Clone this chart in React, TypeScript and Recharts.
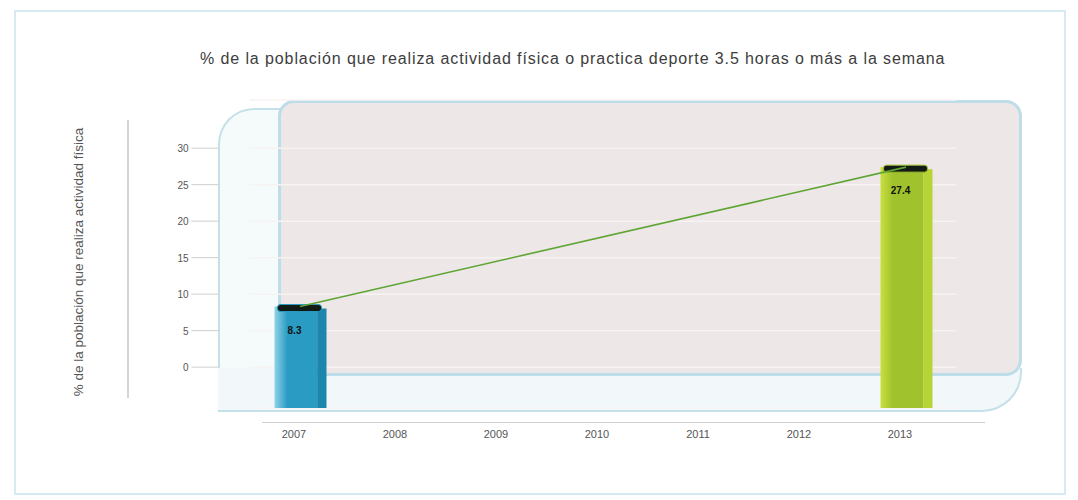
import { Bar, ComposedChart, CartesianGrid, LabelList, Line, XAxis, YAxis } from "recharts";

const years = ["2007", "2008", "2009", "2010", "2011", "2012", "2013"];
const pct: (number | null)[] = [8.3, null, null, null, null, null, 27.4];
const yTicks = [0, 5, 10, 15, 20, 25, 30];
const barLight = ["#8fd3e8", "", "", "", "", "", "#c9df3e"];
const barMain = ["#2a9cc4", "", "", "", "", "", "#9fc22d"];
const barDark = ["#1d86ad", "", "", "", "", "", "#b7d437"];

const TITLE =
  "% de la población que realiza actividad física o practica deporte 3.5 horas o más a la semana";
const Y_LABEL = "% de la población que realiza actividad física";

const data = years.map((year, i) => ({ year, pct: pct[i] }));

const FONT = "'Liberation Sans', Arial, sans-serif";

function BarShape(props: any) {
  const { x, y, width, height, background, payload } = props;
  if (height == null || isNaN(y)) return null;
  const i = years.indexOf(payload?.year);
  if (i < 0) return null;
  const bottom = background ? background.y + background.height : y + height;
  const front = width * 0.82;
  const id = `bar-grad-${i}`;
  return (
    <g>
      <defs>
        <linearGradient id={id} x1="0" y1="0" x2="1" y2="0">
          <stop offset="0%" stopColor={barLight[i]} />
          <stop offset="30%" stopColor={barMain[i]} />
          <stop offset="100%" stopColor={barMain[i]} />
        </linearGradient>
      </defs>
      <rect x={x} y={y} width={front} height={bottom - y} fill={`url(#${id})`} />
      <rect x={x + front} y={y + 2} width={width - front} height={bottom - y - 2} fill={barDark[i]} />
      <rect
        x={x + 3}
        y={y - 2}
        width={width - 8}
        height={7}
        rx={3}
        fill="#121a16"
        stroke={barMain[i]}
        strokeWidth={1}
      />
    </g>
  );
}

function YTick(props: any) {
  const { x, y, payload } = props;
  return (
    <g>
      <text x={x - 61} y={y} dy={4} textAnchor="end" fontSize={10} fill="#555" fontFamily={FONT}>
        {payload.value}
      </text>
      <line x1={x - 58} x2={x - 31} y1={y} y2={y} stroke="#cfcfcf" />
    </g>
  );
}

function YLabel(props: any) {
  const { viewBox } = props;
  if (!viewBox) return null;
  const cx = viewBox.x + 29;
  const cy = viewBox.y + viewBox.height / 2 + 8;
  return (
    <text
      x={cx}
      y={cy}
      transform={`rotate(-90, ${cx}, ${cy})`}
      textAnchor="middle"
      dominantBaseline="central"
      fontSize={13.5}
      fill="#555"
      fontFamily={FONT}
    >
      {Y_LABEL}
    </text>
  );
}

// page coordinates -> wrapper coordinates (body margin 8)
const box = (l: number, t: number, r: number, b: number) => ({
  position: "absolute" as const,
  left: l - 8,
  top: t - 8,
  width: r - l,
  height: b - t,
  boxSizing: "border-box" as const,
});

export default function App() {
  return (
    <div style={{ position: "relative", width: 1060, height: 490, fontFamily: FONT }}>
      {/* frame and decorative 3D box */}
      <div style={{ ...box(14, 10, 1066, 495), border: "2px solid #d6eaf1" }} />
      <div style={{ ...box(127, 120, 129, 398), background: "#d4d4d4" }} />
      <div
        style={{
          ...box(218, 108, 285, 412),
          border: "2px solid #c4e1ea",
          borderRight: "none",
          borderTopLeftRadius: 36,
          borderBottomLeftRadius: 10,
          background: "#f5fafb",
        }}
      />
      <div
        style={{
          ...box(218, 368, 1022, 412),
          border: "2px solid #c4e1ea",
          borderTop: "none",
          borderLeft: "none",
          borderBottomRightRadius: 40,
          background: "#f2f8fa",
        }}
      />
      <div
        style={{
          ...box(278, 100, 1022, 376),
          border: "3px solid #bddde8",
          borderRadius: 16,
          background: "#ede7e7",
        }}
      />
      <div style={{ ...box(262, 422, 985, 423), background: "#d0d0d0" }} />
      <div
        style={{
          position: "absolute",
          left: 200 - 8,
          top: 50 - 8,
          whiteSpace: "nowrap",
          fontSize: 16,
          letterSpacing: 0.9,
          color: "#3d3d3d",
          fontFamily: FONT,
        }}
      >
        {TITLE}
      </div>

      <div style={{ position: "absolute", left: 0, top: 0 }}>
        <ComposedChart
          width={1060}
          height={490}
          data={data}
          margin={{ top: 92, right: 111.5, bottom: 50, left: 41.5 }}
          barCategoryGap={0}
        >
          <CartesianGrid horizontal vertical={false} stroke="#f8f3f3" strokeWidth={1.5} />
          <XAxis
            dataKey="year"
            tickLine={false}
            axisLine={false}
            tickSize={0}
            tickMargin={22}
            height={40}
            tick={{ fontSize: 11, fill: "#555", fontFamily: FONT, dx: -6 }}
          />
          <YAxis
            width={200}
            domain={[-5.6, 36.6]}
            ticks={yTicks}
            tickLine={false}
            axisLine={false}
            tickSize={0}
            tickMargin={0}
            tick={<YTick />}
            label={<YLabel />}
          />
          <Line
            dataKey="pct"
            connectNulls
            stroke="#5ea534"
            strokeWidth={1.6}
            dot={false}
            isAnimationActive={false}
          />
          <Bar dataKey="pct" barSize={52} shape={<BarShape />} isAnimationActive={false}>
            <LabelList
              dataKey="pct"
              position="insideTop"
              offset={20}
              dx={-6}
              fontSize={10}
              fontWeight="bold"
              fill="#111"
              fontFamily={FONT}
            />
          </Bar>
        </ComposedChart>
      </div>
    </div>
  );
}
